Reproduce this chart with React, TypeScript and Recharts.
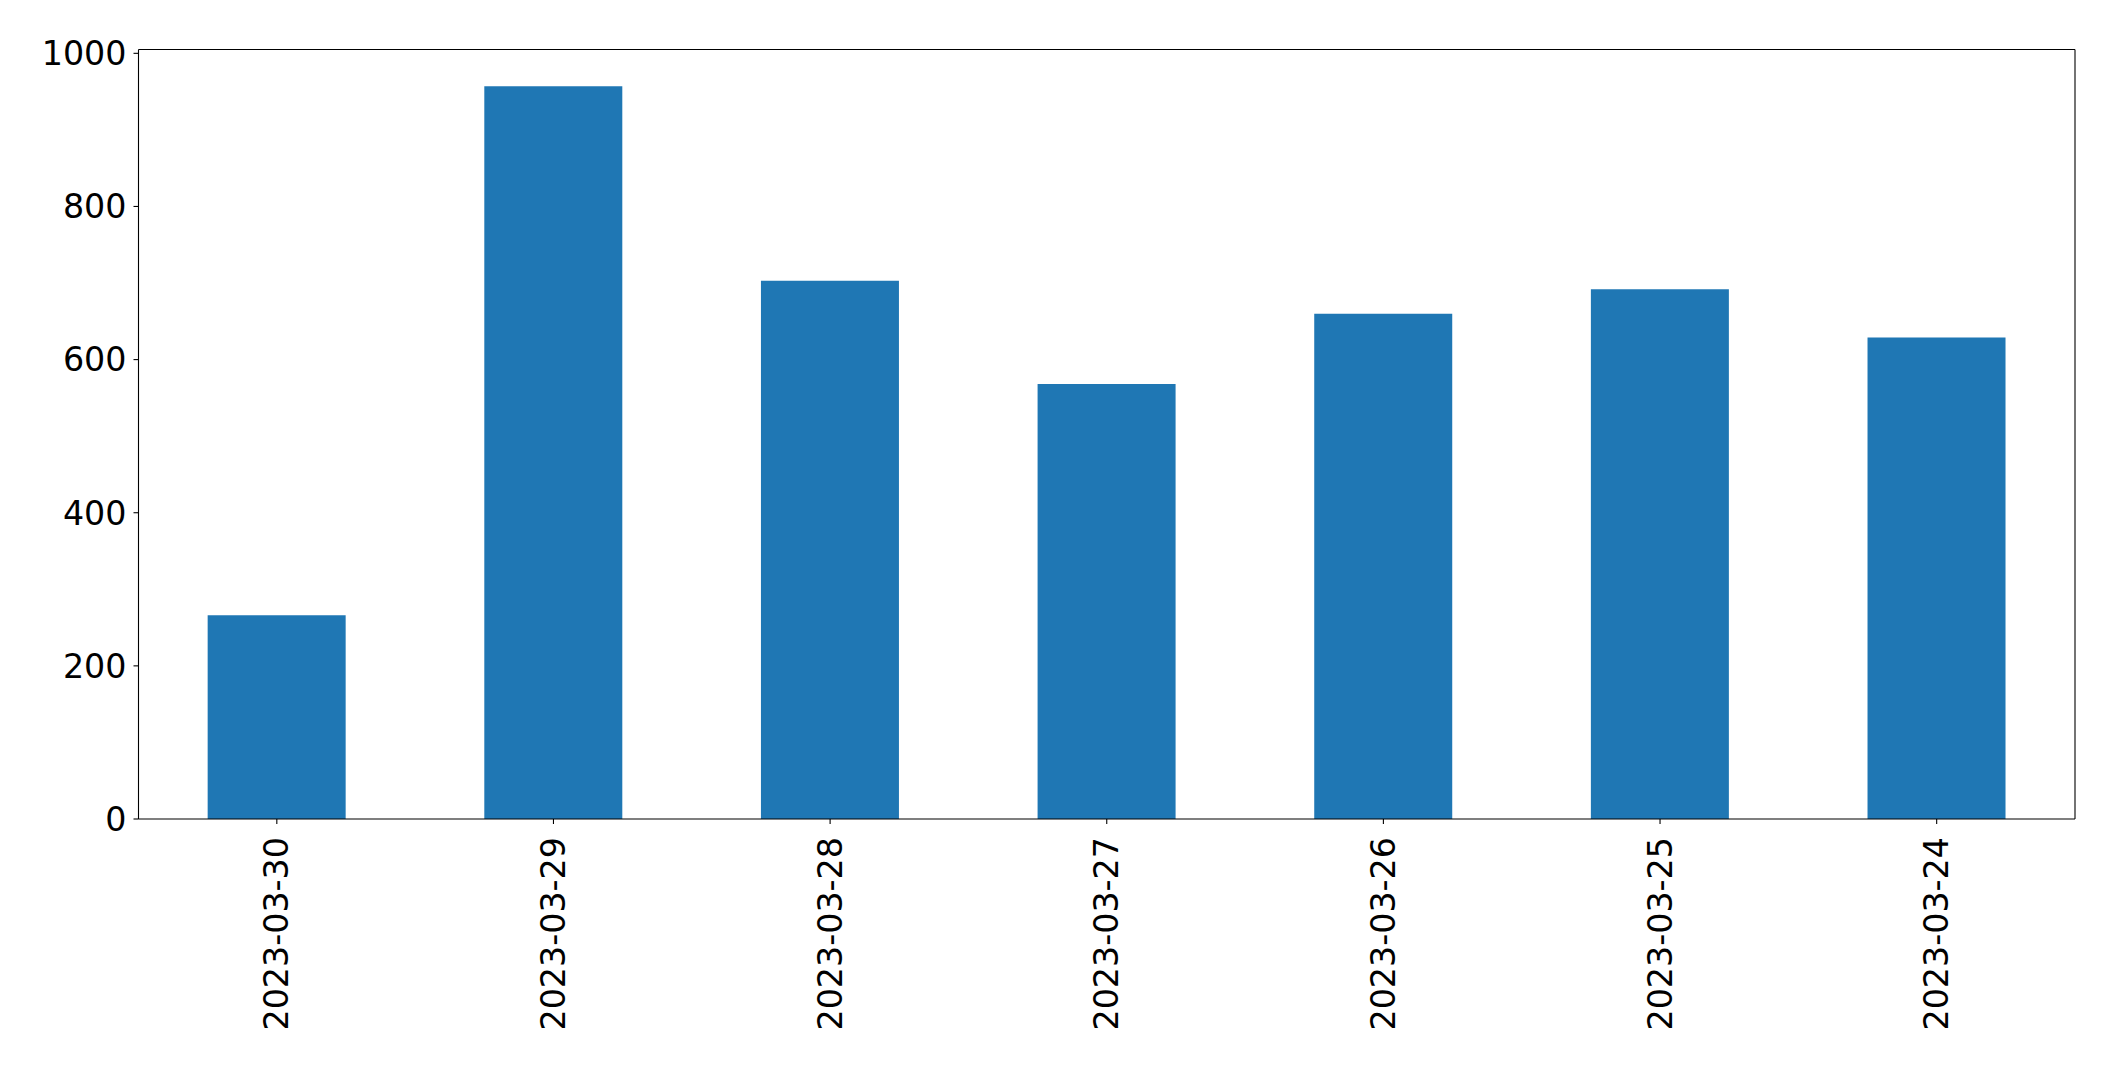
import React from 'react';
import { BarChart, Bar, XAxis, YAxis } from 'recharts';

const dates = ['2023-03-30', '2023-03-29', '2023-03-28', '2023-03-27', '2023-03-26', '2023-03-25', '2023-03-24'];
const counts = [266, 957, 703, 568, 660, 692, 629];
const yTicks = [0, 200, 400, 600, 800, 1000];

const data = dates.map((date, i) => ({ date, count: counts[i] }));

const FONT = 'DejaVu Sans, sans-serif';

const DateTick = ({ x, y, payload }: any) => (
    <text
        x={x}
        y={y + 11}
        transform={`rotate(-90, ${x}, ${y + 11})`}
        textAnchor="end"
        dominantBaseline="central"
        fontFamily={FONT}
        fontSize={33.3}
        fill="#000"
    >
        {payload.value}
    </text>
);

export default function App() {
    return (
        <div style={{ position: 'absolute', left: 0, top: 0, width: 2115, height: 1071, background: '#fff' }}>
            <BarChart
                width={2115}
                height={1071}
                data={data}
                margin={{ top: 48.5, right: 39, left: 0, bottom: 0 }}
                barCategoryGap="25%"
            >
                <XAxis
                    dataKey="date"
                    height={252}
                    interval={0}
                    tick={<DateTick />}
                    tickSize={5}
                    axisLine={{ stroke: '#000', strokeWidth: 1.1 }}
                    tickLine={{ stroke: '#000', strokeWidth: 1.1 }}
                />
                <XAxis
                    xAxisId="top"
                    dataKey="date"
                    orientation="top"
                    height={1}
                    tick={false}
                    tickLine={false}
                    axisLine={{ stroke: '#000', strokeWidth: 1.1 }}
                />
                <YAxis
                    width={138.5}
                    domain={[0, 1005]}
                    ticks={yTicks}
                    tickSize={5}
                    tickMargin={7}
                    tick={{ fill: '#000', fontSize: 33.3, fontFamily: FONT }}
                    axisLine={{ stroke: '#000', strokeWidth: 1.1 }}
                    tickLine={{ stroke: '#000', strokeWidth: 1.1 }}
                />
                <YAxis
                    yAxisId="right"
                    orientation="right"
                    width={1}
                    domain={[0, 1005]}
                    tick={false}
                    tickLine={false}
                    axisLine={{ stroke: '#000', strokeWidth: 1.1 }}
                />
                <Bar dataKey="count" fill="#1f77b4" isAnimationActive={false} />
            </BarChart>
        </div>
    );
}
